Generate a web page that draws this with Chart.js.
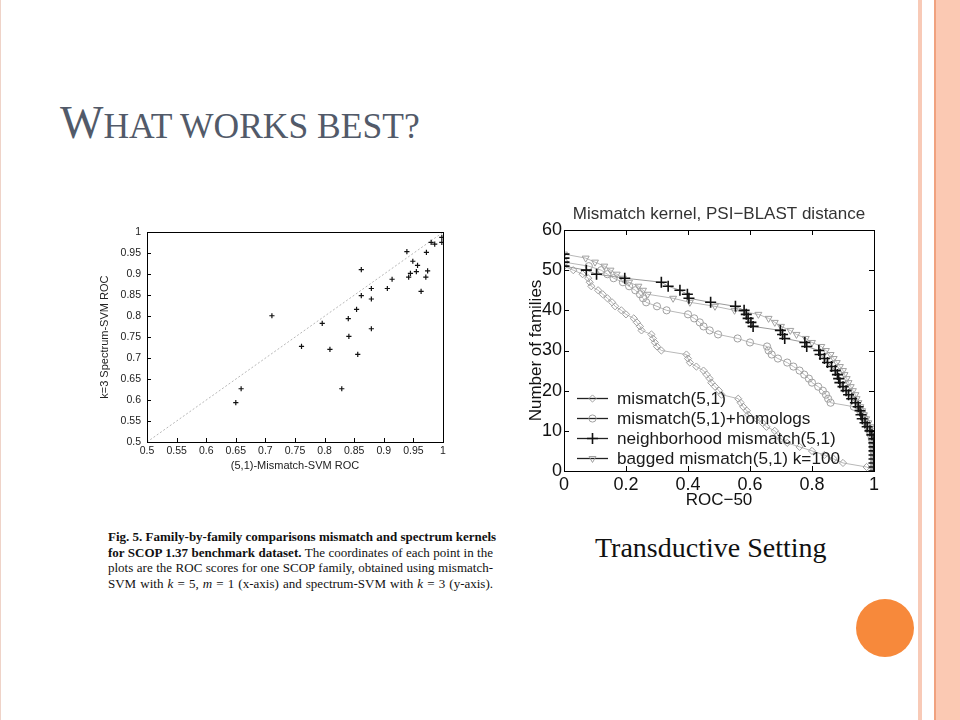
<!DOCTYPE html>
<html><head><meta charset="utf-8">
<script src="https://cdn.jsdelivr.net/npm/chart.js@4.4.0/dist/chart.umd.min.js"></script>
<style>
html,body{margin:0;padding:0;background:#fff;}
#slide{position:relative;width:960px;height:720px;overflow:hidden;background:#fff;font-family:"Liberation Serif","Times New Roman",serif;}
#title{position:absolute;left:60px;top:100px;font-size:46px;line-height:46px;color:#525a69;white-space:nowrap;}
#title .sc{font-size:35.5px;}
.cap{position:absolute;left:108px;width:385px;font-size:13px;line-height:15.7px;height:15.7px;color:#111;text-align:justify;text-align-last:justify;white-space:nowrap;}
#trans{position:absolute;left:595px;top:533px;font-size:28px;line-height:30px;color:#111;white-space:nowrap;}
.deco{position:absolute;top:0;height:720px;}
#dot{position:absolute;left:856px;top:599px;width:58px;height:58px;border-radius:50%;background:#f7893b;}
canvas{position:absolute;}
</style></head><body>
<div id="slide">
  <div class="deco" style="left:0;width:1px;background:#efd3c8"></div>
  <div class="deco" style="left:918px;width:4px;background:#f8cab7"></div>
  <div class="deco" style="left:934px;width:2px;background:#f0a27f"></div>
  <div class="deco" style="left:936px;width:24px;background:#fbc9b3"></div>
  <div id="dot"></div>
  <div id="title"><span>W</span><span class="sc">HAT WORKS BEST?</span></div>
  <canvas id="c1" width="360" height="265" style="left:95px;top:220px;width:360px;height:265px"></canvas>
  <canvas id="c2" width="370" height="320" style="left:520px;top:195px;width:370px;height:320px"></canvas>
  <div class="cap" style="top:529px"><b>Fig. 5. Family-by-family comparisons mismatch and spectrum kernels</b></div>
  <div class="cap" style="top:544.7px"><b>for SCOP 1.37 benchmark dataset.</b> The coordinates of each point in the</div>
  <div class="cap" style="top:560.4px">plots are the ROC scores for one SCOP family, obtained using mismatch-</div>
  <div class="cap" style="top:576.1px">SVM with <i>k</i> = 5, <i>m</i> = 1 (x-axis) and spectrum-SVM with <i>k</i> = 3 (y-axis).</div>
  <div id="trans">Transductive Setting</div>
</div>
<script>
// ---------- Left chart data: family-by-family ROC scores ----------
const mismatchRoc = [0.650,0.659,0.711,0.761,0.796,0.809,0.829,0.840,0.841,0.854,0.856,0.862,0.862,0.879,0.879,0.879,0.906,0.914,0.939,0.942,0.945,0.949,0.955,0.957,0.963,0.971,0.972,0.974,0.980,0.986,0.998,0.998];
const spectrumRoc = [0.594,0.627,0.801,0.728,0.783,0.721,0.627,0.794,0.752,0.816,0.709,0.911,0.849,0.866,0.841,0.770,0.866,0.888,0.954,0.893,0.902,0.931,0.906,0.921,0.859,0.893,0.952,0.908,0.976,0.972,0.988,0.976];
const diagX = [0.5, 1];
const diagY = [0.5, 1];
const rocTicks = [0.5,0.55,0.6,0.65,0.7,0.75,0.8,0.85,0.9,0.95,1];

// ---------- Right chart data: number of families with ROC-50 >= x ----------
const diamondX = [0,0.03,0.06,0.078,0.083,0.088,0.11,0.125,0.14,0.155,0.165,0.185,0.2,0.225,0.235,0.245,0.25,0.282,0.287,0.293,0.3,0.314,0.395,0.4,0.406,0.427,0.45,0.46,0.47,0.475,0.487,0.5,0.508,0.562,0.57,0.578,0.59,0.594,0.62,0.64,0.653,0.68,0.69,0.7,0.72,0.76,0.8,0.84,0.87,0.9,0.976,1];
const diamondY = [51,50,49,48,47,46,45,44,43,42,41,40,39,38,37,36,35,34,33,32,31,30,29,28,27,26,25,24,23,22,21,20,19,18,17,16,15,14,13,12,11,10,9,8,7,6,5,4,3,2,1,0];
const circleX = [0,0.08,0.12,0.14,0.16,0.19,0.21,0.23,0.245,0.255,0.265,0.3,0.331,0.4,0.42,0.438,0.45,0.47,0.497,0.56,0.6,0.655,0.66,0.67,0.69,0.72,0.74,0.76,0.775,0.79,0.8,0.82,0.835,0.845,0.852,0.86,0.935,0.955,0.965,0.97,0.975,0.98,0.985,0.99,0.993,0.995,0.997,0.998,0.999,1,1,1,1];
const circleY = [52,51,50,49,48,47,46,45,44,43,42,41,40,39,38,37,36,35,34,33,32,31,30,29,28,27,26,25,24,23,22,21,20,19,18,17,16,15,14,13,12,11,10,9,8,7,6,5,4,3,2,1,0];
const plusX = [0,0,0,0,0.072,0.105,0.196,0.314,0.336,0.374,0.398,0.403,0.473,0.553,0.581,0.588,0.594,0.603,0.61,0.698,0.705,0.712,0.777,0.783,0.822,0.826,0.84,0.85,0.863,0.875,0.882,0.886,0.89,0.9,0.91,0.918,0.928,0.94,0.949,0.955,0.958,0.962,0.971,0.978,0.987,0.993,1,1,1,1,1,1,1,1,1];
const plusY = [54,53,52,51,50,49,48,47,46,45,44,43,42,41,40,39,38,37,36,35,34,33,32,31,30,29,28,27,26,25,24,23,22,21,20,19,18,17,16,15,14,13,12,11,10,9,8,7,6,5,4,3,2,1,0];
const triX = [0,0.07,0.1,0.13,0.15,0.17,0.19,0.21,0.24,0.255,0.27,0.352,0.406,0.487,0.55,0.627,0.66,0.68,0.7,0.73,0.75,0.78,0.8,0.83,0.845,0.86,0.87,0.88,0.89,0.9,0.905,0.912,0.918,0.925,0.932,0.94,0.944,0.95,0.956,0.962,0.968,0.975,0.982,0.99,0.995,0.998,1,1,1,1,1,1,1,1,1];
const triY = [54,53,52,51,50,49,48,47,46,45,44,43,42,41,40,39,38,37,36,35,34,33,32,31,30,29,28,27,26,25,24,23,22,21,20,19,18,17,16,15,14,13,12,11,10,9,8,7,6,5,4,3,2,1,0];
const rocTicks50 = [0,0.2,0.4,0.6,0.8,1];
const familyTicks = [0,10,20,30,40,50,60];
const legendLabels = ['mismatch(5,1)','mismatch(5,1)+homologs','neighborhood mismatch(5,1)','bagged mismatch(5,1) k=100'];

const pts = (xs, ys) => xs.map((x, i) => ({x, y: ys[i]}));
const SANS = '"Liberation Sans", Arial, Helvetica, sans-serif';

// draws frame + inward tick marks
function framePlugin(len, sides) {
  return {
    id: 'frame',
    afterDatasetsDraw(chart) {
      const {ctx, chartArea: a, scales} = chart;
      ctx.save();
      ctx.strokeStyle = '#000';
      ctx.lineWidth = 1;
      ctx.strokeRect(Math.round(a.left) + 0.5, Math.round(a.top) + 0.5, Math.round(a.right - a.left), Math.round(a.bottom - a.top));
      ctx.beginPath();
      scales.x.ticks.forEach(t => {
        const px = Math.round(scales.x.getPixelForValue(t.value)) + 0.5;
        ctx.moveTo(px, a.bottom); ctx.lineTo(px, a.bottom - len);
        if (sides === 4) { ctx.moveTo(px, a.top); ctx.lineTo(px, a.top + len); }
      });
      scales.y.ticks.forEach(t => {
        const py = Math.round(scales.y.getPixelForValue(t.value)) + 0.5;
        ctx.moveTo(a.left, py); ctx.lineTo(a.left + len, py);
        if (sides === 4) { ctx.moveTo(a.right, py); ctx.lineTo(a.right - len, py); }
      });
      ctx.stroke();
      ctx.restore();
    }
  };
}

// ---------- Left scatter chart ----------
new Chart(document.getElementById('c1'), {
  type: 'scatter',
  data: {
    datasets: [
      {data: pts(mismatchRoc, spectrumRoc), pointStyle: 'cross', pointRadius: 2.6, borderColor: '#111', pointBorderWidth: 1.2},
      {type: 'line', data: pts(diagX, diagY), borderColor: '#b8b8b8', borderWidth: 1, borderDash: [2, 2], pointRadius: 0, fill: false}
    ]
  },
  options: {
    responsive: false, animation: false, devicePixelRatio: 1,
    layout: {padding: {left: 0, right: 12, top: 9, bottom: 0}},
    plugins: {legend: {display: false}, tooltip: {enabled: false}},
    scales: {
      x: {type: 'linear', min: 0.5, max: 1,
          afterBuildTicks: s => { s.ticks = rocTicks.map(v => ({value: v})); },
          afterFit: s => { s.height = 43; },
          grid: {display: false, drawTicks: false}, border: {display: false},
          ticks: {padding: 3, color: '#222', font: {family: SANS, size: 10.5}, callback: v => String(v), maxRotation: 0, autoSkip: false},
          title: {display: true, text: '(5,1)-Mismatch-SVM ROC', color: '#222', font: {family: SANS, size: 11}, padding: {top: 0, bottom: 12}}},
      y: {type: 'linear', min: 0.5, max: 1,
          afterBuildTicks: s => { s.ticks = rocTicks.map(v => ({value: v})); },
          afterFit: s => { s.width = 52; },
          grid: {display: false, drawTicks: false}, border: {display: false},
          ticks: {padding: 6, color: '#222', font: {family: SANS, size: 10.5}, callback: v => String(v), autoSkip: false},
          title: {display: true, text: 'k=3 Spectrum-SVM ROC', color: '#222', font: {family: SANS, size: 11}, padding: {top: 3, bottom: 0}}}
    }
  },
  plugins: [framePlugin(4, 2)]
});

// ---------- Right chart ----------
const markerStyles = [
  {pointStyle: 'rectRot', radius: 3.6, rotation: 0, color: '#a0a0a0', width: 1},
  {pointStyle: 'circle', radius: 3.6, rotation: 0, color: '#a0a0a0', width: 1},
  {pointStyle: 'cross', radius: 5.5, rotation: 0, color: '#111', width: 1.6},
  {pointStyle: 'triangle', radius: 4, rotation: 180, color: '#a0a0a0', width: 1}
];
const legendPlugin = {
  id: 'innerLegend',
  afterDatasetsDraw(chart) {
    const ctx = chart.ctx;
    ctx.save();
    legendLabels.forEach((label, i) => {
      const y = 203 + i * 20;
      ctx.strokeStyle = '#222'; ctx.lineWidth = 1.3;
      ctx.beginPath(); ctx.moveTo(57, y + 0.5); ctx.lineTo(88, y + 0.5); ctx.stroke();
      const m = markerStyles[i];
      ctx.strokeStyle = m.color; ctx.fillStyle = 'rgba(0,0,0,0)'; ctx.lineWidth = m.width;
      Chart.helpers.drawPoint(ctx, {pointStyle: m.pointStyle, radius: m.radius, rotation: m.rotation, borderWidth: m.width}, 72.5, y + 0.5);
      ctx.fillStyle = '#1a1a1a';
      ctx.font = '17.2px ' + SANS;
      ctx.textBaseline = 'middle';
      ctx.fillText(label, 97, y + 1);
    });
    ctx.restore();
  }
};
function seriesDs(xs, ys, m, lineColor) {
  return {data: pts(xs, ys), showLine: true, borderColor: lineColor, borderWidth: 1,
          pointStyle: m.pointStyle, pointRadius: m.radius, pointRotation: m.rotation,
          pointBorderColor: m.color, pointBackgroundColor: 'rgba(255,255,255,0)', pointBorderWidth: m.width};
}
new Chart(document.getElementById('c2'), {
  type: 'scatter',
  data: {
    datasets: [
      seriesDs(plusX, plusY, markerStyles[2], '#9a9a9a'),
      seriesDs(triX, triY, markerStyles[3], '#b8b8b8'),
      seriesDs(circleX, circleY, markerStyles[1], '#b8b8b8'),
      seriesDs(diamondX, diamondY, markerStyles[0], '#b8b8b8')
    ]
  },
  options: {
    responsive: false, animation: false, devicePixelRatio: 1,
    layout: {padding: {left: 0, right: 16, top: 0, bottom: 0}},
    plugins: {
      legend: {display: false}, tooltip: {enabled: false},
      title: {display: true, fullSize: false, text: 'Mismatch kernel, PSI\u2212BLAST distance', color: '#333',
              font: {family: SANS, size: 17, weight: 'normal'}, padding: {top: 9, bottom: 5.6}}
    },
    scales: {
      x: {type: 'linear', min: 0, max: 1,
          afterBuildTicks: s => { s.ticks = rocTicks50.map(v => ({value: v})); },
          afterFit: s => { s.height = 44; },
          grid: {display: false, drawTicks: false}, border: {display: false},
          ticks: {padding: 3, color: '#111', font: {family: SANS, size: 18}, callback: v => String(v), maxRotation: 0, autoSkip: false},
          title: {display: true, text: 'ROC\u221250', color: '#111', font: {family: SANS, size: 17}, padding: {top: 0, bottom: 4}}},
      y: {type: 'linear', min: 0, max: 60,
          afterBuildTicks: s => { s.ticks = familyTicks.map(v => ({value: v})); },
          afterFit: s => { s.width = 44; },
          grid: {display: false, drawTicks: false}, border: {display: false},
          ticks: {padding: 2, color: '#111', font: {family: SANS, size: 18}, callback: v => String(v), autoSkip: false},
          title: {display: true, text: 'Number of families', color: '#111', font: {family: SANS, size: 17}, padding: {top: 6, bottom: 0}}}
    }
  },
  plugins: [framePlugin(5, 4), legendPlugin]
});
</script>
</body></html>
